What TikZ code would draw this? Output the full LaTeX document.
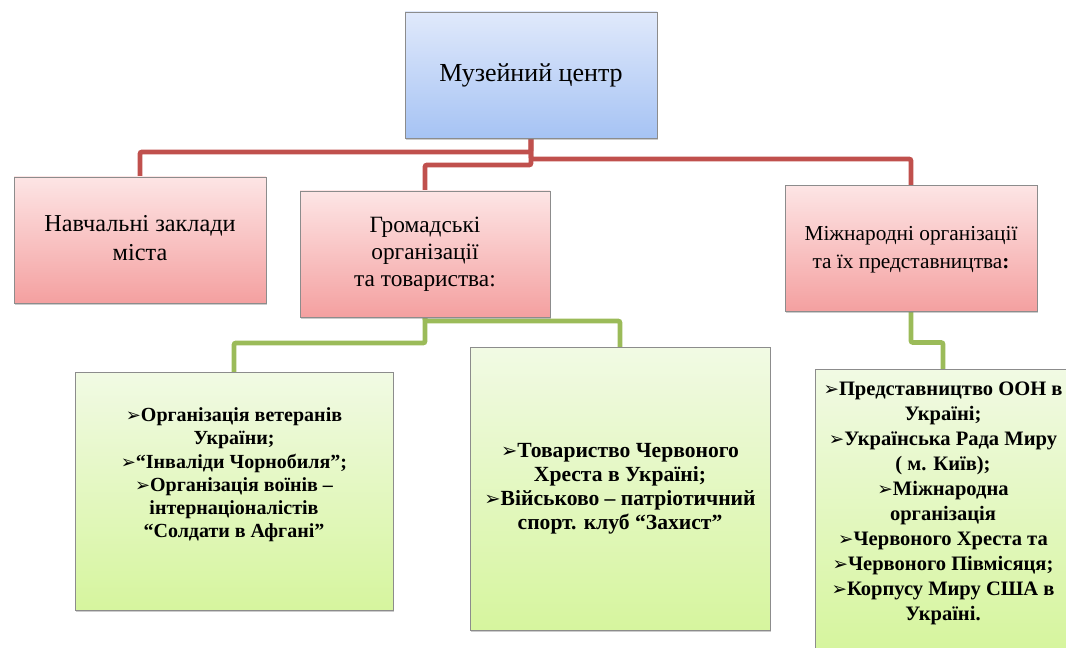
\documentclass[tikz,border=0pt]{standalone}
\usepackage{fontspec}
\setmainfont{Liberation Serif}[Ligatures=TeX]
\newfontfamily\dingfont{DejaVu Sans}
\usetikzlibrary{positioning,shadows,backgrounds}
\definecolor{linkred}{HTML}{C0504D}
\definecolor{linkgreen}{HTML}{9BBB59}
\definecolor{bluetop}{HTML}{E0E9FB}
\definecolor{bluebot}{HTML}{A6C3F4}
\definecolor{redtop}{HTML}{FDE5E5}
\definecolor{redbot}{HTML}{F4A0A0}
\definecolor{greentop}{HTML}{F1FAE4}
\definecolor{greenbot}{HTML}{D6F59E}
\newcommand{\bul}{{\dingfont\scalebox{0.9}{➢}}}

\begin{document}
\begin{tikzpicture}[x=0.75pt,y=-0.75pt]

\tikzset{
	box/.style={
		draw=black!45,
		rectangle,
		thin,
		text centered,
		inner sep=2pt,
		outer sep=0pt,
		drop shadow={shadow xshift=1pt,shadow yshift=-1.5pt,opacity=0.4}},
	topbox/.style={
		box,
		top color=bluetop,
		bottom color=bluebot,
		minimum width=252*0.75pt,
		minimum height=126*0.75pt,
		font=\fontsize{19.5}{22}\selectfont},
	redbox/.style={
		box,
		top color=redtop,
		bottom color=redbot,
		minimum width=252*0.75pt,
		minimum height=126*0.75pt},
	greenbox/.style={
		box,
		top color=greentop,
		bottom color=greenbot},
	redlink/.style={
		draw=linkred,
		line width=3.6pt,
		rounded corners=1.5pt},
	greenlink/.style={
		draw=linkgreen,
		line width=3.6pt,
		rounded corners=1.5pt}
}

\useasboundingbox (0,0) rectangle (1066,648);

\node[topbox] (muz) at (531,75) {\raisebox{-4pt}{Музейний центр}};

\node[redbox,font=\fontsize{18.2}{21.75}\selectfont] (nav) at (140,240) {
	\begin{tabular}{@{}c@{}}
	Навчальні заклади\\
	міста
	\end{tabular}};

\node[redbox,minimum width=250*0.75pt,font=\fontsize{17.5}{20.5}\selectfont] (gro) at (425,254) {
	\begin{tabular}{@{}c@{}}
	Громадські\\
	організації\\
	та товариства:
	\end{tabular}};

\node[redbox,font=\fontsize{16}{21}\selectfont] (miz) at (911,248.5) {
	\begin{tabular}{@{}c@{}}
	Міжнародні організації\\
	та їх представництва\textbf{:}
	\end{tabular}};

\node[greenbox,minimum width=318*0.75pt,minimum height=238*0.75pt,
	font=\bfseries\fontsize{15}{17.4}\selectfont] (vet) at (234,491) {
	\begin{tabular}{@{}c@{}}
	\bul Організація ветеранів\\
	України;\\
	\bul “Інваліди Чорнобиля”;\\
	\bul Організація воїнів –\\
	інтернаціоналістів\\
	“Солдати в Афгані”\\[24pt]
	\end{tabular}};

\node[greenbox,minimum width=300*0.75pt,minimum height=283*0.75pt,
	font=\bfseries\fontsize{16.2}{18}\selectfont] (tov) at (620,488.5) {
	\begin{tabular}{@{}c@{}}
	\bul Товариство Червоного\\
	Хреста в Україні;\\
	\bul Військово – патріотичний\\
	спорт. клуб “Захист”
	\end{tabular}};

\node[greenbox,minimum width=256*0.75pt,minimum height=279*0.75pt,
	font=\bfseries\fontsize{15.4}{18.75}\selectfont] (mno) at (943,508.5) {
	\begin{tabular}{@{}c@{}}
	\bul Представництво ООН в\\
	Україні;\\
	\bul Українська Рада Миру\\
	( м. Київ);\\
	\bul Міжнародна\\
	організація\\
	\bul Червоного Хреста та\\
	\bul Червоного Півмісяця;\\
	\bul Корпусу Миру США в\\
	Україні.\\[9pt]
	\end{tabular}};

% connectors
\begin{scope}[on background layer]
\draw[redlink] (muz.south) -- ++(0,14) -| (nav.north);
\draw[redlink] (muz.south) -- ++(0,27) -| (gro.north);
\draw[redlink] (muz.south) -- ++(0,21) -| (miz.north);
\draw[greenlink] (gro.south) -- ++(0,26) -| (vet.north);
\draw[greenlink] (gro.south) -- ++(0,4) -| (tov.north);
\draw[greenlink] (miz.south) -- ++(0,31) -| (mno.north);
\end{scope}

\end{tikzpicture}
\end{document}
